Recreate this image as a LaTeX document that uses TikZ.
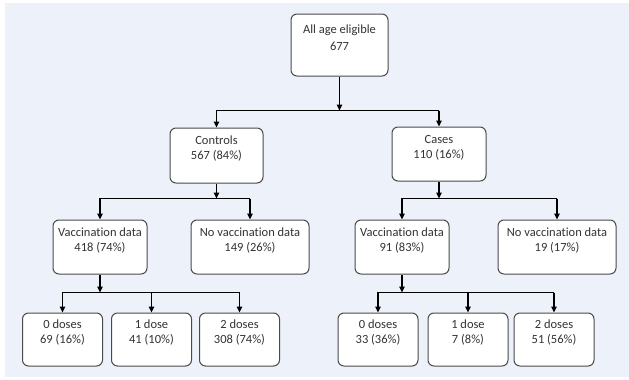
\documentclass[tikz,border=0pt]{standalone}
\usepackage{fontspec}
\setmainfont{Carlito}[Ligatures=NoCommon]
\usetikzlibrary{arrows.meta,positioning,calc}
\definecolor{panel}{HTML}{EDF1F9}
\definecolor{edge}{HTML}{4A4A4A}
\definecolor{ink}{HTML}{333333}
\tikzset{
 box/.style={draw=edge,line width=1pt,fill=white,rounded corners=6pt,align=center,
             minimum height=54pt,text=ink,font=\fontsize{12.5}{15}\selectfont,
             execute at end node={\rule[-15pt]{0pt}{15pt}}},
 arrow/.style={-{Triangle[length=6pt,width=5.5pt]},line width=1.1pt},
 dosebox/.style={box,minimum height=53pt,minimum width=80pt}
}

\begin{document}
\begin{tikzpicture}[x=1pt,y=-1pt,node distance=38pt and 8pt]
\useasboundingbox[fill=white] (0,0) rectangle (629,380);
\fill[panel] (5,3) rectangle (629,377);

% first split
\node[box,minimum width=97pt,minimum height=62pt] (all) at (339.5,45) {All age eligible\\[2pt]677};
\node[box,minimum width=93pt,minimum height=55pt,below=51pt of all,xshift=-123pt] (controls) {Controls\\567 (84\%)};
\node[box,minimum width=94pt,below=50pt of all,xshift=99.5pt] (cases) {Cases\\110 (16\%)};

% vaccination data
\node[box,minimum width=94pt,below=36pt of controls,xshift=-116.5pt] (cvacc) {Vaccination data\\418 (74\%)};
\node[box,minimum width=118pt,right=43pt of cvacc] (cnovacc) {No vaccination data\\149 (26\%)};
\node[box,minimum width=94pt,below=of cases,xshift=-37pt] (kvacc) {Vaccination data\\91 (83\%)};
\node[box,minimum width=118pt,right=48pt of kvacc] (knovacc) {No vaccination data\\19 (17\%)};

% doses
\node[dosebox,below=of cvacc,xshift=-37.5pt] (c0) {0 doses\\69 (16\%)};
\node[dosebox,right=of c0] (c1) {1 dose\\41 (10\%)};
\node[dosebox,right=7pt of c1] (c2) {2 doses\\308 (74\%)};
\node[dosebox,below=of kvacc,xshift=-24pt] (k0) {0 doses\\33 (36\%)};
\node[dosebox,right=9pt of k0] (k1) {1 dose\\7 (8\%)};
\node[dosebox,right=5pt of k1] (k2) {2 doses\\51 (56\%)};

% connectors
\coordinate[below=34pt of all.south] (split);
\draw[arrow] (all) -- (split);
\draw[arrow] (split -| cases) -- (split -| controls) -- (controls);
\draw[arrow] (split -| cases) -- (cases);

\coordinate[below=15pt of controls.south] (csplit);
\draw[arrow] (controls) -- (csplit);
\draw[arrow] (csplit -| cnovacc) -- (csplit -| cvacc) -- (cvacc);
\draw[arrow] (csplit -| cnovacc) -- (cnovacc);

\coordinate[below=17pt of cases.south] (ksplit);
\draw[arrow] (cases) -- (ksplit);
\draw[arrow] (ksplit -| knovacc) -- (ksplit -| kvacc) -- (kvacc);
\draw[arrow] (ksplit -| knovacc) -- (knovacc);

\coordinate[below=18pt of cvacc.south] (cvsplit);
\draw[arrow] (cvacc) -- (cvsplit);
\draw[arrow] (cvsplit -| c2) -- (cvsplit -| c0) -- (c0);
\draw[arrow] (cvsplit -| c1) -- (c1);
\draw[arrow] (cvsplit -| c2) -- (c2);

\coordinate[below=18pt of kvacc.south] (kvsplit);
\draw[arrow] (kvacc) -- (kvsplit);
\draw[arrow] (kvsplit -| k2) -- (kvsplit -| k0) -- (k0);
\draw[arrow] (kvsplit -| k1) -- (k1);
\draw[arrow] (kvsplit -| k2) -- (k2);
\end{tikzpicture}
\end{document}
